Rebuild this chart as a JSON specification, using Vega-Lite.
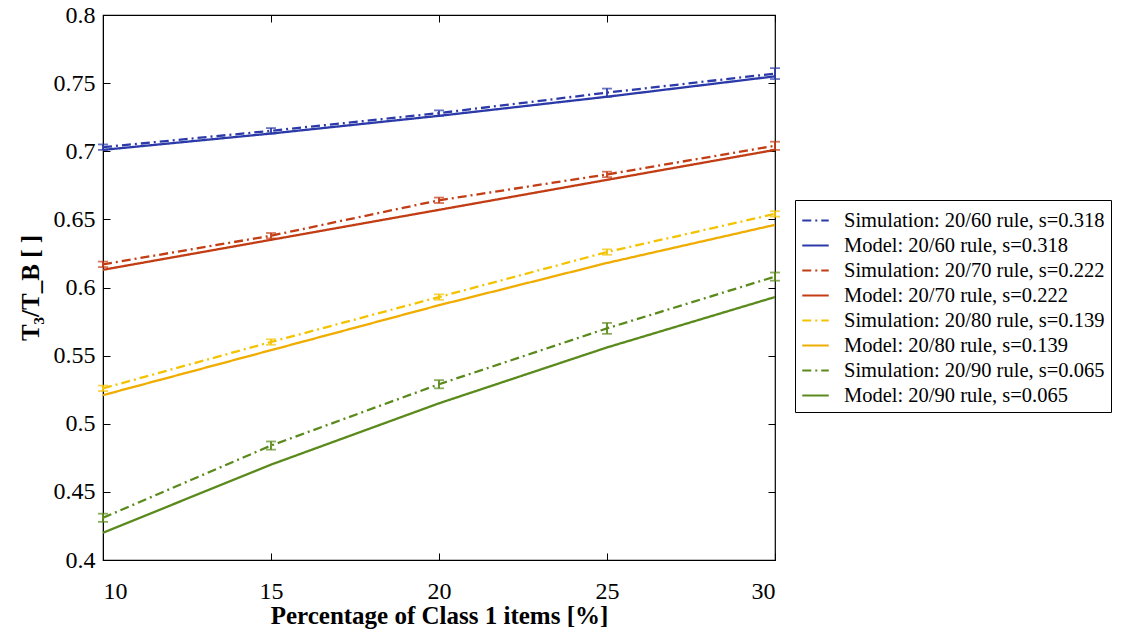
{
  "$schema": "https://vega.github.io/schema/vega-lite/v6.json",
  "width": 672,
  "height": 545,
  "autosize": "none",
  "padding": {"left": 103, "top": 15, "right": 352, "bottom": 77},
  "background": "white",
  "config": {
    "font": "Liberation Serif, Times New Roman, serif",
    "view": {"stroke": "black", "strokeWidth": 1.2},
    "axis": {"grid": false, "domainColor": "black", "tickColor": "black", "labelColor": "black", "titleColor": "black", "labelFont": "Liberation Serif, Times New Roman, serif", "titleFont": "Liberation Serif, Times New Roman, serif", "labelFontSize": 24, "titleFontSize": 25, "titleFontWeight": "bold", "tickSize": -7}
  },
  "resolve": {"axis": {"x": "independent", "y": "independent"}},
  "data": {"values": [
    {"x": 10, "s": "Simulation: 20/60 rule, s=0.318", "y": 0.703, "lo": 0.701, "hi": 0.705},
    {"x": 15, "s": "Simulation: 20/60 rule, s=0.318", "y": 0.715, "lo": 0.713, "hi": 0.717},
    {"x": 20, "s": "Simulation: 20/60 rule, s=0.318", "y": 0.728, "lo": 0.726, "hi": 0.730},
    {"x": 25, "s": "Simulation: 20/60 rule, s=0.318", "y": 0.743, "lo": 0.740, "hi": 0.746},
    {"x": 30, "s": "Simulation: 20/60 rule, s=0.318", "y": 0.757, "lo": 0.753, "hi": 0.761},
    {"x": 10, "s": "Model: 20/60 rule, s=0.318", "y": 0.701},
    {"x": 15, "s": "Model: 20/60 rule, s=0.318", "y": 0.713},
    {"x": 20, "s": "Model: 20/60 rule, s=0.318", "y": 0.726},
    {"x": 25, "s": "Model: 20/60 rule, s=0.318", "y": 0.740},
    {"x": 30, "s": "Model: 20/60 rule, s=0.318", "y": 0.755},
    {"x": 10, "s": "Simulation: 20/70 rule, s=0.222", "y": 0.617, "lo": 0.615, "hi": 0.619},
    {"x": 15, "s": "Simulation: 20/70 rule, s=0.222", "y": 0.638, "lo": 0.636, "hi": 0.640},
    {"x": 20, "s": "Simulation: 20/70 rule, s=0.222", "y": 0.664, "lo": 0.662, "hi": 0.666},
    {"x": 25, "s": "Simulation: 20/70 rule, s=0.222", "y": 0.683, "lo": 0.681, "hi": 0.685},
    {"x": 30, "s": "Simulation: 20/70 rule, s=0.222", "y": 0.704, "lo": 0.701, "hi": 0.707},
    {"x": 10, "s": "Model: 20/70 rule, s=0.222", "y": 0.613},
    {"x": 15, "s": "Model: 20/70 rule, s=0.222", "y": 0.635},
    {"x": 20, "s": "Model: 20/70 rule, s=0.222", "y": 0.657},
    {"x": 25, "s": "Model: 20/70 rule, s=0.222", "y": 0.679},
    {"x": 30, "s": "Model: 20/70 rule, s=0.222", "y": 0.701},
    {"x": 10, "s": "Simulation: 20/80 rule, s=0.139", "y": 0.526, "lo": 0.524, "hi": 0.528},
    {"x": 15, "s": "Simulation: 20/80 rule, s=0.139", "y": 0.560, "lo": 0.558, "hi": 0.562},
    {"x": 20, "s": "Simulation: 20/80 rule, s=0.139", "y": 0.593, "lo": 0.591, "hi": 0.595},
    {"x": 25, "s": "Simulation: 20/80 rule, s=0.139", "y": 0.626, "lo": 0.624, "hi": 0.628},
    {"x": 30, "s": "Simulation: 20/80 rule, s=0.139", "y": 0.654, "lo": 0.652, "hi": 0.656},
    {"x": 10, "s": "Model: 20/80 rule, s=0.139", "y": 0.521},
    {"x": 15, "s": "Model: 20/80 rule, s=0.139", "y": 0.554},
    {"x": 20, "s": "Model: 20/80 rule, s=0.139", "y": 0.587},
    {"x": 25, "s": "Model: 20/80 rule, s=0.139", "y": 0.618},
    {"x": 30, "s": "Model: 20/80 rule, s=0.139", "y": 0.646},
    {"x": 10, "s": "Simulation: 20/90 rule, s=0.065", "y": 0.431, "lo": 0.428, "hi": 0.434},
    {"x": 15, "s": "Simulation: 20/90 rule, s=0.065", "y": 0.484, "lo": 0.481, "hi": 0.487},
    {"x": 20, "s": "Simulation: 20/90 rule, s=0.065", "y": 0.529, "lo": 0.526, "hi": 0.532},
    {"x": 25, "s": "Simulation: 20/90 rule, s=0.065", "y": 0.570, "lo": 0.566, "hi": 0.574},
    {"x": 30, "s": "Simulation: 20/90 rule, s=0.065", "y": 0.608, "lo": 0.605, "hi": 0.611},
    {"x": 10, "s": "Model: 20/90 rule, s=0.065", "y": 0.420},
    {"x": 15, "s": "Model: 20/90 rule, s=0.065", "y": 0.470},
    {"x": 20, "s": "Model: 20/90 rule, s=0.065", "y": 0.515},
    {"x": 25, "s": "Model: 20/90 rule, s=0.065", "y": 0.556},
    {"x": 30, "s": "Model: 20/90 rule, s=0.065", "y": 0.593}
  ]},
  "layer": [
    {
      "mark": {"type": "line", "strokeWidth": 2.3, "clip": true},
      "encoding": {
        "x": {"field": "x", "type": "quantitative", "scale": {"domain": [10, 30], "nice": false}, "axis": {"title": "Percentage of Class 1 items [%]", "values": [10, 15, 20, 25, 30], "format": "~g", "labelPadding": 26, "titlePadding": 0}},
        "y": {"field": "y", "type": "quantitative", "scale": {"domain": [0.4, 0.8], "nice": false, "zero": false}, "axis": {"title": "T₃/T_B [ ]", "values": [0.4, 0.45, 0.5, 0.55, 0.6, 0.65, 0.7, 0.75, 0.8], "format": "~g", "labelPadding": 15, "titlePadding": 10}},
        "color": {"field": "s", "type": "nominal", "sort": null,
          "scale": {
            "domain": ["Simulation: 20/60 rule, s=0.318", "Model: 20/60 rule, s=0.318", "Simulation: 20/70 rule, s=0.222", "Model: 20/70 rule, s=0.222", "Simulation: 20/80 rule, s=0.139", "Model: 20/80 rule, s=0.139", "Simulation: 20/90 rule, s=0.065", "Model: 20/90 rule, s=0.065"],
            "range": ["#2b3aa8", "#2b3aa8", "#c23c14", "#c23c14", "#f4c300", "#f0ad00", "#5b8a1c", "#5b8a1c"]
          },
          "legend": {"title": null, "orient": "none", "legendX": 692, "legendY": 185, "labelFont": "Liberation Serif, Times New Roman, serif", "labelFontSize": 20.5, "labelColor": "black", "symbolType": "stroke", "symbolSize": 700, "symbolStrokeWidth": 2, "rowPadding": -3, "labelOffset": 14, "strokeColor": "black", "padding": 6, "fillColor": "white", "labelLimit": 400}
        },
        "strokeDash": {"field": "s", "type": "nominal", "sort": null,
          "scale": {
            "domain": ["Simulation: 20/60 rule, s=0.318", "Model: 20/60 rule, s=0.318", "Simulation: 20/70 rule, s=0.222", "Model: 20/70 rule, s=0.222", "Simulation: 20/80 rule, s=0.139", "Model: 20/80 rule, s=0.139", "Simulation: 20/90 rule, s=0.065", "Model: 20/90 rule, s=0.065"],
            "range": [[9, 4, 2, 4], [1, 0], [9, 4, 2, 4], [1, 0], [9, 4, 2, 4], [1, 0], [9, 4, 2, 4], [1, 0]]
          }
        }
      }
    },
    {
      "transform": [{"filter": "isValid(datum.lo)"}],
      "mark": {"type": "rule", "strokeWidth": 1.8},
      "encoding": {
        "x": {"field": "x", "type": "quantitative", "axis": {"orient": "top", "values": [10, 15, 20, 25, 30], "labels": false, "title": null, "domain": false}},
        "y": {"field": "lo", "type": "quantitative", "axis": {"orient": "right", "values": [0.4, 0.45, 0.5, 0.55, 0.6, 0.65, 0.7, 0.75, 0.8], "labels": false, "title": null, "domain": false}},
        "y2": {"field": "hi"},
        "color": {"field": "s", "type": "nominal", "sort": null, "legend": null}
      }
    },
    {
      "transform": [{"filter": "isValid(datum.lo)"}],
      "mark": {"type": "tick", "orient": "horizontal", "size": 10, "thickness": 1.8},
      "encoding": {
        "x": {"field": "x", "type": "quantitative", "axis": null},
        "y": {"field": "lo", "type": "quantitative", "axis": null},
        "color": {"field": "s", "type": "nominal", "sort": null, "legend": null}
      }
    },
    {
      "transform": [{"filter": "isValid(datum.lo)"}],
      "mark": {"type": "tick", "orient": "horizontal", "size": 10, "thickness": 1.8},
      "encoding": {
        "x": {"field": "x", "type": "quantitative", "axis": null},
        "y": {"field": "hi", "type": "quantitative", "axis": null},
        "color": {"field": "s", "type": "nominal", "sort": null, "legend": null}
      }
    }
  ]
}
